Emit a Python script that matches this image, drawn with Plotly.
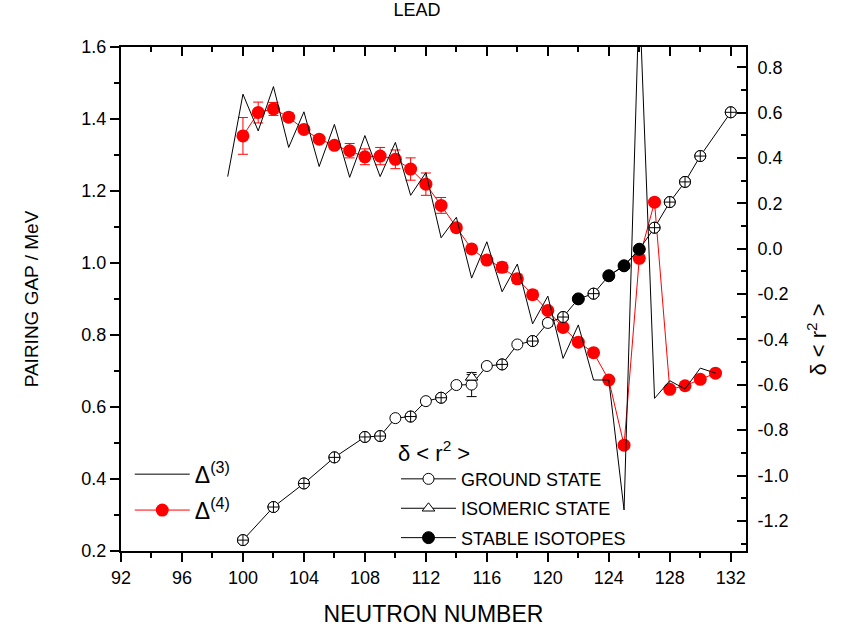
import plotly.graph_objects as go

# ---------------- data ----------------
n_d3 = [99, 100, 101, 102, 103, 104, 105, 106, 107, 108, 109, 110, 111, 112, 113, 114, 115,
        116, 117, 118, 119, 120, 121, 122, 123, 124, 125, 126, 127, 128, 129, 130, 131]
delta3 = [1.240, 1.469, 1.367, 1.490, 1.321, 1.420, 1.268, 1.385, 1.238, 1.354, 1.240, 1.335,
          1.188, 1.251, 1.070, 1.127, 0.958, 1.059, 0.920, 0.997, 0.831, 0.908, 0.735, 0.828,
          0.675, 0.675, 0.314, 1.750, 0.624, 0.673, 0.650, 0.708, 0.694]

n_d4 = [100, 101, 102, 103, 104, 105, 106, 107, 108, 109, 110, 111, 112, 113, 114, 115,
        116, 117, 118, 119, 120, 121, 122, 123, 124, 125, 126, 127, 128, 129, 130, 131]
delta4 = [1.353, 1.418, 1.428, 1.405, 1.371, 1.344, 1.327, 1.312, 1.295, 1.297, 1.288, 1.261,
          1.219, 1.160, 1.098, 1.039, 1.008, 0.988, 0.956, 0.912, 0.868, 0.821, 0.780, 0.751,
          0.675, 0.494, 1.013, 1.169, 0.649, 0.659, 0.677, 0.694]
delta4_err = [0.051, 0.029, 0.018, 0.012, 0.008, 0.006, 0.010, 0.020, 0.022, 0.024, 0.026, 0.031,
              0.031, 0.022, 0.010, 0.004, 0.004, 0.014, 0.013, 0.012, 0.004, 0.004, 0.004, 0.004,
              0.004, 0.004, 0.004, 0.004, 0.004, 0.004, 0.004, 0.004]

# delta <r^2> ground state (all measured points, line connects them)
n_gs = [100, 102, 104, 106, 108, 109, 110, 111, 112, 113, 114, 115, 116, 117, 118, 119, 120,
        121, 122, 123, 124, 125, 126, 127, 128, 129, 130, 132]
dr2_gs = [-1.285, -1.139, -1.035, -0.920, -0.830, -0.826, -0.747, -0.740, -0.672, -0.657,
          -0.601, -0.599, -0.517, -0.510, -0.422, -0.407, -0.327, -0.301, -0.221, -0.198,
          -0.119, -0.075, -0.002, 0.093, 0.206, 0.295, 0.409, 0.602]
dr2_gs_err = [0, 0, 0, 0, 0, 0, 0, 0, 0, 0, 0, 0.053, 0, 0, 0, 0, 0.015, 0, 0, 0, 0, 0, 0,
              0, 0, 0, 0, 0]
# points drawn with crossed-circle symbols
n_cross = [100, 102, 104, 106, 108, 109, 111, 113, 117, 119, 121, 123, 127, 128, 129, 130, 132]
dr2_cross = [-1.285, -1.139, -1.035, -0.920, -0.830, -0.826, -0.740, -0.657, -0.510, -0.407,
             -0.301, -0.198, 0.093, 0.206, 0.295, 0.409, 0.602]
# isomeric state
n_iso = [115]
dr2_iso = [-0.567]
dr2_iso_err = [0.012]
# stable isotopes
n_stable = [122, 123, 124, 125, 126]
dr2_stable = [-0.221, None, -0.119, -0.075, -0.002]

x_ticks = list(range(92, 133, 4))
y2_ticks = [-1.2, -1.0, -0.8, -0.6, -0.4, -0.2, 0.0, 0.2, 0.4, 0.6, 0.8]
y2_labels = [f"{v:.1f}" for v in y2_ticks]

FONT = "Liberation Sans, Arial, sans-serif"

fig = go.Figure()

# Delta(3): black zig-zag (drawn on the top x axis, which mirrors the bottom one)
fig.add_trace(go.Scatter(
    x=n_d3, y=delta3, mode="lines", name="Δ<sup>(3)</sup>",
    line=dict(color="black", width=1), xaxis="x2", yaxis="y",
    legend="legend", legendgroup="d3"))

# Delta(4): red dots with error bars
fig.add_trace(go.Scatter(
    x=n_d4, y=delta4, mode="lines+markers", name="Δ<sup>(4)</sup>",
    line=dict(color="red", width=1),
    marker=dict(color="red", size=13, symbol="circle"),
    error_y=dict(type="data", array=delta4_err, color="red", thickness=1, width=5),
    xaxis="x", yaxis="y", legend="legend", legendgroup="d4"))

# delta <r^2>: ground state
fig.add_trace(go.Scatter(
    x=n_gs, y=dr2_gs, mode="lines+markers", name="GROUND STATE",
    line=dict(color="black", width=1),
    marker=dict(color="white", size=11, symbol="circle", line=dict(color="black", width=1)),
    error_y=dict(type="data", array=dr2_gs_err, color="black", thickness=1, width=5),
    xaxis="x", yaxis="y2", legend="legend2", legendgroup="gs"))

fig.add_trace(go.Scatter(
    x=n_cross, y=dr2_cross, mode="markers", showlegend=False,
    marker=dict(color="white", size=11, symbol="circle-cross", line=dict(color="black", width=1)),
    xaxis="x", yaxis="y2"))

fig.add_trace(go.Scatter(
    x=n_iso, y=dr2_iso, mode="lines+markers", name="ISOMERIC STATE",
    line=dict(color="black", width=1),
    marker=dict(color="white", size=11, symbol="triangle-up", line=dict(color="black", width=1)),
    error_y=dict(type="data", array=dr2_iso_err, color="black", thickness=1, width=5),
    xaxis="x", yaxis="y2", legend="legend2", legendgroup="iso"))

fig.add_trace(go.Scatter(
    x=n_stable, y=dr2_stable, mode="lines+markers", name="STABLE ISOTOPES",
    line=dict(color="black", width=1), connectgaps=False,
    marker=dict(color="black", size=12, symbol="circle", line=dict(color="black", width=1)),
    xaxis="x", yaxis="y2", legend="legend2", legendgroup="st"))

axis_common = dict(showline=True, linecolor="black", linewidth=2, showgrid=False,
                   zeroline=False, tickcolor="black", tickwidth=1.5, ticklen=9)

fig.update_layout(
    width=851, height=632,
    margin=dict(l=121, r=105, t=47, b=81),
    paper_bgcolor="white", plot_bgcolor="white",
    font=dict(family=FONT, color="black", size=18),
    title=dict(text="LEAD", x=0.49, xanchor="center", y=0.984, yanchor="middle",
               font=dict(size=18)),
    xaxis=dict(range=[92, 133], tickvals=x_ticks, ticks="outside", automargin=False,
               minor=dict(dtick=2, tick0=92, ticks="outside", ticklen=5, tickwidth=1.5,
                          tickcolor="black"),
               title=dict(text="NEUTRON NUMBER", font=dict(size=23), standoff=19),
               tickfont=dict(size=18), **axis_common),
    xaxis2=dict(overlaying="x", matches="x", side="top", anchor="y", ticks="inside",
                tickvals=x_ticks, showticklabels=False,
                minor=dict(dtick=2, tick0=92, ticks="inside", ticklen=5, tickwidth=1.5,
                           tickcolor="black"),
                **axis_common),
    yaxis=dict(range=[0.2, 1.6], dtick=0.2, tick0=0.2, tickformat=".1f", ticks="outside",
               minor=dict(dtick=0.1, ticks="outside", ticklen=5, tickwidth=1.5,
                          tickcolor="black"),
               title=dict(text="PAIRING GAP / MeV", font=dict(size=19), standoff=38),
               tickfont=dict(size=18), **axis_common),
    yaxis2=dict(overlaying="y", side="right", anchor="x", range=[-1.333, 0.89],
                tickvals=y2_ticks, ticktext=y2_labels, ticks="inside",
                ticklabelstandoff=6,
                minor=dict(dtick=0.1, tick0=0, ticks="inside", ticklen=5, tickwidth=1.5,
                           tickcolor="black"),
                tickfont=dict(size=18), **axis_common),
    annotations=[dict(text="δ < r<sup>2</sup> >", textangle=-90, xref="paper", yref="paper",
                      x=1.114, y=0.42, xanchor="center", yanchor="middle", showarrow=False,
                      font=dict(size=22))],
    legend=dict(x=0.014, y=0.195, xanchor="left", yanchor="top", bgcolor="rgba(0,0,0,0)",
                font=dict(size=23), itemwidth=55, tracegroupgap=3, traceorder="grouped"),
    legend2=dict(x=0.44, y=0.236, xanchor="left", yanchor="top", bgcolor="rgba(0,0,0,0)",
                 title=dict(text="δ < r<sup>2</sup> >", font=dict(size=22)),
                 font=dict(size=18), itemwidth=55, tracegroupgap=3, traceorder="grouped"),
)

fig.write_html("out.html")
